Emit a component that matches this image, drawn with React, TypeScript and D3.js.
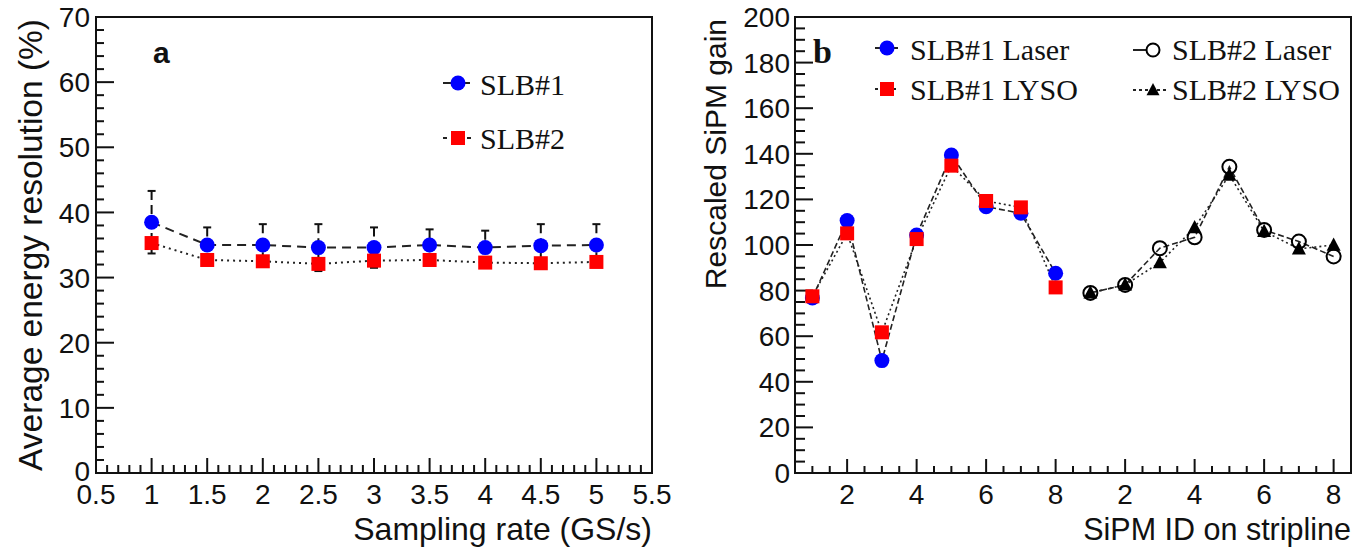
import React from "react";
import * as d3 from "d3";

// ---------- Panel a data ----------
const rateX = [1, 1.5, 2, 2.5, 3, 3.5, 4, 4.5, 5];
const slb1Res = [38.5, 35.0, 35.0, 34.6, 34.6, 35.0, 34.6, 34.9, 35.0];
const slb1Err = [4.8, 2.7, 3.2, 3.6, 3.1, 2.4, 2.6, 3.3, 3.2];
const slb2Res = [35.3, 32.7, 32.5, 32.1, 32.6, 32.7, 32.3, 32.2, 32.4];
const rateTicks = [0.5, 1, 1.5, 2, 2.5, 3, 3.5, 4, 4.5, 5, 5.5];
const rateTickLabels = ["0.5", "1", "1.5", "2", "2.5", "3", "3.5", "4", "4.5", "5", "5.5"];
const resTicks = [0, 10, 20, 30, 40, 50, 60, 70];

// ---------- Panel b data ----------
const slb1Pos = [1, 2, 3, 4, 5, 6, 7, 8];
const slb2Pos = [9, 10, 11, 12, 13, 14, 15, 16];
const slb1Laser = [76.8, 110.7, 49.3, 104.4, 139.5, 116.8, 113.9, 87.6];
const slb1Lyso = [77.5, 105.1, 61.7, 102.6, 134.8, 119.3, 116.5, 81.4];
const slb2Laser = [79.0, 82.5, 98.6, 103.4, 134.3, 106.6, 101.5, 95.0];
const slb2Lyso = [79.0, 82.5, 92.3, 107.6, 130.7, 106.0, 98.3, 100.0];
const sipmTicks = [2, 4, 6, 8, 10, 12, 14, 16];
const sipmTickLabels = ["2", "4", "6", "8", "2", "4", "6", "8"];
const gainTicks = [0, 20, 40, 60, 80, 100, 120, 140, 160, 180, 200];

const SANS = "'Liberation Sans', Arial, sans-serif";
const SERIF = "'Liberation Serif', 'Times New Roman', serif";
const LINE = "#222";

function Frame({ x0, x1, y0, y1 }: any) {
  return <rect x={x0} y={y0} width={x1 - x0} height={y1 - y0} fill="none" stroke="#111" strokeWidth={2} />;
}

function PanelA() {
  const x = d3.scaleLinear().domain([0.5, 5.5]).range([96, 652]);
  const y = d3.scaleLinear().domain([0, 70]).range([473, 17]);
  const xMinor = d3.range(0.5, 5.5001, 0.1);
  const yMinor = d3.range(0, 70.001, 2);
  const pts1 = rateX.map((v, i) => [x(v), y(slb1Res[i])] as [number, number]);
  const pts2 = rateX.map((v, i) => [x(v), y(slb2Res[i])] as [number, number]);
  const line = d3.line();
  return (
    <g>
      {yMinor.map((t, i) => (
        <line key={"ym" + i} x1={x(0.5)} x2={x(0.5) + (Math.round(t) % 10 === 0 ? 18 : 8)} y1={y(t)} y2={y(t)} stroke="#111" strokeWidth={2} />
      ))}
      {xMinor.map((t, i) => (
        <line key={"xm" + i} y1={y(0)} y2={y(0) - (i % 5 === 0 ? 15 : 8)} x1={x(t)} x2={x(t)} stroke="#111" strokeWidth={2} />
      ))}
      <Frame x0={96} x1={652} y0={17} y1={473} />
      {resTicks.map((t) => (
        <text key={"yl" + t} x={x(0.5) - 6} y={y(t) - (t === 0 ? 2 : 0)} dy="0.36em" textAnchor="end" fontFamily={SANS} fontSize={28} fill="#111">{t}</text>
      ))}
      {rateTicks.map((t, i) => (
        <text key={"xl" + t} x={x(t)} y={y(0) + 31} textAnchor="middle" fontFamily={SANS} fontSize={28} fill="#111">{rateTickLabels[i]}</text>
      ))}
      <text x={652} y={540} textAnchor="end" fontFamily={SANS} fontSize={32} fill="#111">Sampling rate (GS/s)</text>
      <text transform={`translate(42,19) rotate(-90)`} textAnchor="end" fontFamily={SANS} fontSize={33.5} fill="#111">Average energy resolution (%)</text>
      <text x={153} y={63} fontFamily={SANS} fontSize={30} fontWeight="bold" fill="#111">a</text>

      <path d={line(pts1) || ""} fill="none" stroke={LINE} strokeWidth={2} strokeDasharray="9,6" />
      <path d={line(pts2) || ""} fill="none" stroke={LINE} strokeWidth={2} strokeDasharray="2,4" />
      {rateX.map((v, i) => {
        const cx = x(v);
        const top = y(slb1Res[i] + slb1Err[i]);
        const bot = y(slb1Res[i] - slb1Err[i]);
        return (
          <g key={"e" + i}>
            <line x1={cx} x2={cx} y1={top} y2={bot} stroke="#111" strokeWidth={2} strokeDasharray="9,5" />
            <line x1={cx - 4} x2={cx + 4} y1={top} y2={top} stroke="#111" strokeWidth={2} />
            <line x1={cx - 4} x2={cx + 4} y1={bot} y2={bot} stroke="#111" strokeWidth={2} />
          </g>
        );
      })}
      {pts1.map((p, i) => (
        <circle key={"c" + i} cx={p[0]} cy={p[1]} r={7.5} fill="#0000ff" />
      ))}
      {pts2.map((p, i) => (
        <rect key={"s" + i} x={p[0] - 7} y={p[1] - 7} width={14} height={14} fill="#ff0000" />
      ))}

      {/* legend */}
      <line x1={443} x2={470} y1={83} y2={83} stroke={LINE} strokeWidth={2} />
      <circle cx={458} cy={83} r={7.5} fill="#0000ff" />
      <text x={480} y={95} fontFamily={SERIF} fontSize={30} fill="#111">SLB#1</text>
      <line x1={443} x2={472} y1={138} y2={138} stroke={LINE} strokeWidth={2} strokeDasharray="4,4" />
      <rect x={451} y={131} width={14} height={14} fill="#ff0000" />
      <text x={480} y={149} fontFamily={SERIF} fontSize={30} fill="#111">SLB#2</text>
    </g>
  );
}

function Triangle({ cx, cy, s }: any) {
  const h = s * 0.9;
  return <path d={`M${cx},${cy - h * 0.6}L${cx + s / 2},${cy + h * 0.45}L${cx - s / 2},${cy + h * 0.45}Z`} fill="#000" />;
}

function PanelB() {
  const x = d3.scaleLinear().domain([0.5, 16.5]).range([795, 1351]);
  const y = d3.scaleLinear().domain([0, 200]).range([473, 17]);
  const xMinor = d3.range(1, 16.001, 0.5);
  const yMinor = d3.range(0, 200.001, 5);
  const line = d3.line();
  const p1L = slb1Pos.map((v, i) => [x(v), y(slb1Laser[i])] as [number, number]);
  const p1Y = slb1Pos.map((v, i) => [x(v), y(slb1Lyso[i])] as [number, number]);
  const p2L = slb2Pos.map((v, i) => [x(v), y(slb2Laser[i])] as [number, number]);
  const p2Y = slb2Pos.map((v, i) => [x(v), y(slb2Lyso[i])] as [number, number]);
  return (
    <g>
      {yMinor.map((t, i) => (
        <line key={"ym" + i} x1={x(0.5)} x2={x(0.5) + (Math.round(t) % 20 === 0 ? 18 : 10)} y1={y(t)} y2={y(t)} stroke="#111" strokeWidth={2} />
      ))}
      {xMinor.map((t, i) => (
        <line key={"xm" + i} y1={y(0)} y2={y(0) - (Math.abs(t % 2) < 1e-6 ? 14 : 7)} x1={x(t)} x2={x(t)} stroke="#111" strokeWidth={2} />
      ))}
      <Frame x0={795} x1={1351} y0={17} y1={473} />
      {gainTicks.map((t) => (
        <text key={"yl" + t} x={x(0.5) - 5} y={y(t)} dy="0.36em" textAnchor="end" fontFamily={SANS} fontSize={28} fill="#111">{t}</text>
      ))}
      {sipmTicks.map((t, i) => (
        <text key={"xl" + t} x={x(t)} y={y(0) + 31} textAnchor="middle" fontFamily={SANS} fontSize={28} fill="#111">{sipmTickLabels[i]}</text>
      ))}
      <text x={1351} y={540} textAnchor="end" fontFamily={SANS} fontSize={30.5} fill="#111">SiPM ID on stripline</text>
      <text transform={`translate(726,19) rotate(-90)`} textAnchor="end" fontFamily={SANS} fontSize={30} fill="#111">Rescaled SiPM gain</text>
      <text x={813} y={63} fontFamily={SERIF} fontSize={34} fontWeight="bold" fill="#111">b</text>

      <path d={line(p1L) || ""} fill="none" stroke={LINE} strokeWidth={1.6} strokeDasharray="6,3" />
      <path d={line(p1Y) || ""} fill="none" stroke={LINE} strokeWidth={1.6} strokeDasharray="2,3" />
      <path d={line(p2L) || ""} fill="none" stroke={LINE} strokeWidth={1.6} strokeDasharray="6,3" />
      <path d={line(p2Y) || ""} fill="none" stroke={LINE} strokeWidth={1.6} strokeDasharray="2,3" />

      {p1L.map((p, i) => <circle key={"bl" + i} cx={p[0]} cy={p[1]} r={7.5} fill="#0000ff" />)}
      {p1Y.map((p, i) => <rect key={"ry" + i} x={p[0] - 7} y={p[1] - 7} width={14} height={14} fill="#ff0000" />)}
      {p2Y.map((p, i) => <Triangle key={"ty" + i} cx={p[0]} cy={p[1]} s={14} />)}
      {p2L.map((p, i) => <circle key={"ol" + i} cx={p[0]} cy={p[1]} r={7} fill="none" stroke="#000" strokeWidth={2} />)}

      {/* legend */}
      <line x1={875} x2={898} y1={48} y2={48} stroke={LINE} strokeWidth={2} />
      <circle cx={887} cy={48} r={7.5} fill="#0000ff" />
      <text x={910} y={60} fontFamily={SERIF} fontSize={30} fill="#111">SLB#1 Laser</text>
      <line x1={875} x2={899} y1={89} y2={89} stroke={LINE} strokeWidth={2} strokeDasharray="3,3" />
      <rect x={880} y={82} width={14} height={14} fill="#ff0000" />
      <text x={910} y={100} fontFamily={SERIF} fontSize={30} fill="#111">SLB#1 LYSO</text>

      <line x1={1133} x2={1160} y1={50} y2={50} stroke={LINE} strokeWidth={2} />
      <circle cx={1153} cy={50} r={6.5} fill="#fff" stroke="#000" strokeWidth={2} />
      <text x={1172} y={60} fontFamily={SERIF} fontSize={30} fill="#111">SLB#2 Laser</text>
      <line x1={1133} x2={1166} y1={90} y2={90} stroke={LINE} strokeWidth={2} strokeDasharray="3,3" />
      <Triangle cx={1153} cy={90} s={13} />
      <text x={1172} y={100} fontFamily={SERIF} fontSize={30} fill="#111">SLB#2 LYSO</text>
    </g>
  );
}

export default function App() {
  return (
    <svg width={1372} height={553} style={{ position: "absolute", left: 0, top: 0, background: "#fff" }}>
      <rect width={1372} height={553} fill="#fff" />
      <PanelA />
      <PanelB />
    </svg>
  );
}
